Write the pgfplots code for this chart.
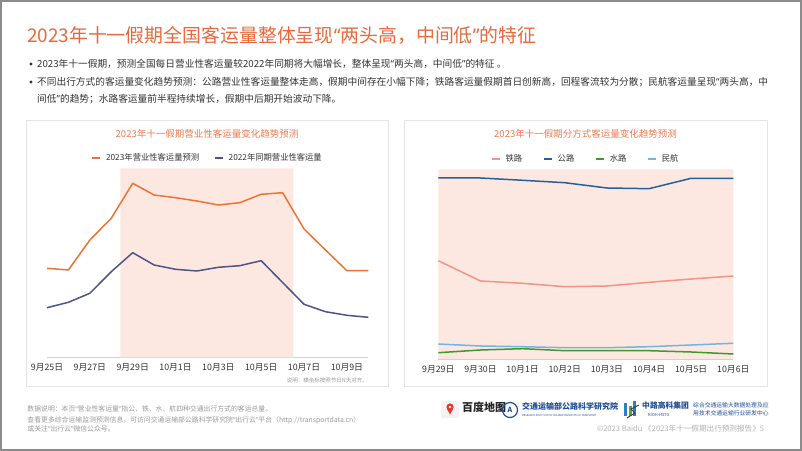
\documentclass[border=0pt]{standalone}
\usepackage{fontspec}
\setmainfont{Noto Sans CJK SC}
\newfontfamily\latinq{Noto Sans}
\newcommand{\qo}{{\latinq “}}
\newcommand{\qc}{{\latinq ”}}
\usepackage{pgfplots}
\pgfplotsset{compat=1.18}

\definecolor{ttl}{HTML}{E8693C}
\definecolor{ctl}{HTML}{EE7A4E}
\definecolor{sh}{HTML}{FCE8E0}
\definecolor{or}{HTML}{EC7334}
\definecolor{nv}{HTML}{4B5586}
\definecolor{rail}{HTML}{F29385}
\definecolor{road}{HTML}{26609C}
\definecolor{water}{HTML}{3C9B2A}
\definecolor{air}{HTML}{74B3E2}
\definecolor{txt}{HTML}{333333}
\definecolor{foot}{HTML}{9A9A9A}
\definecolor{logob}{HTML}{1F4E9A}
\definecolor{pinred}{HTML}{E8372C}
\definecolor{lgblue}{HTML}{2B7FC3}
\definecolor{lggreen}{HTML}{49A942}

\newcommand{\fs}[1]{\fontsize{#1bp}{1.2\dimexpr #1bp\relax}\selectfont}

\pgfplotsset{
  slide/.style={
    scale only axis,
    anchor=south west,
    axis x line*=bottom,
    axis y line=none,
    x axis line style={draw=black!18, line width=0.8bp, -},
    xtick style={draw=none},
    ytick=\empty,
    ymin=0,
    clip=false,
    xticklabel style={font=\fs{8.8}, text=txt, yshift=-3bp},
    legend style={draw=none, fill=none, font=\fs{8.3}, text=txt,
      at={(0.5,1.054)}, anchor=center,
      /tikz/every odd column/.append style={column sep=3bp}},
    legend columns=-1,
    legend image code/.code={\draw[##1, line width=1.5bp] (0bp,0bp) -- (8bp,0bp);},
    every axis plot/.append style={line width=1.5bp, line join=round},
  }
}

\begin{document}
\begin{tikzpicture}[x=1bp,y=1bp]
\path[use as bounding box] (0,0) rectangle (802,451);
\fill[white] (0,0) rectangle (802,451);
\draw[black!45, line width=1.6bp] (0.8,0.8) rectangle (801.2,450.2);
\coordinate (LA) at (47,93.5);
\coordinate (RA) at (438.3,92);

% headline and bullets
\node[anchor=west, inner sep=0, text=ttl, font=\fs{18.9}] at (27,416) {2023年十一假期全国客运量整体呈现\qo 两头高，中间低\qc 的特征};
\fill[txt] (31,387) circle (1.7);
\fill[txt] (31,369) circle (1.7);
\node[anchor=west, inner sep=0, text=txt, font=\fs{9.7}] at (37,387) {2023年十一假期，预测全国每日营业性客运量较2022年同期将大幅增长，整体呈现\qo 两头高，中间低\qc 的特征 。};
\node[anchor=west, inner sep=0, text=txt, font=\fs{9.7}] at (37,369) {不同出行方式的客运量变化趋势预测：公路营业性客运量整体走高，假期中间存在小幅下降；铁路客运量假期首日创新高，回程客流较为分散；民航客运量呈现\qo 两头高，中};
\node[anchor=west, inner sep=0, text=txt, font=\fs{9.7}] at (37,352) {间低\qc 的趋势；水路客运量前半程持续增长，假期中后期开始波动下降。};

% cards
\draw[black!10, line width=0.7bp] (26.7,64.3) rectangle (388,331);
\draw[black!10, line width=0.7bp] (404,64.3) rectangle (767.7,331);
\node[text=ctl, font=\fs{9.5}] at (207,317) {2023年十一假期营业性客运量变化趋势预测};
\node[text=ctl, font=\fs{9.5}] at (585.5,316.7) {2023年十一假期分方式客运量变化趋势预测};

% left chart
\begin{axis}[slide, at={(LA)}, width=321.3bp, height=189.2bp,
  xmin=0, xmax=15, ymax=189.2,
  xtick={0,2,...,14},
  xticklabels={9月25日,9月27日,9月29日,10月1日,10月3日,10月5日,10月7日,10月9日},
  legend style={/tikz/every even column/.append style={column sep=13bp}}]
\addplot[fill=sh, draw=none, forget plot] coordinates {(3.43,0) (3.43,189.2) (11.5,189.2) (11.5,0)} \closedcycle;
\addplot[color=or] coordinates {
  (0,89.2) (1,87.5) (2,117.5) (3,139.2) (4,174.2) (5,162.5) (6,159.8) (7,156.5)
  (8,152.5) (9,154.8) (10,163.2) (11,164.8) (12,128.5) (13,107.5) (14,86.8) (15,86.8)};
\addlegendentry{2023年营业性客运量预测}
\addplot[color=nv] coordinates {
  (0,49.8) (1,55.2) (2,64.2) (3,85.8) (4,104.8) (5,92.5) (6,88.2) (7,86.5)
  (8,90.2) (9,91.8) (10,96.8) (11,75) (12,53.2) (13,45.8) (14,42.2) (15,40.2)};
\addlegendentry{2022年同期营业性客运量}
\end{axis}
\node[anchor=east, inner sep=0, text=foot, font=\fs{5.5}] at (368,70.5) {说明：横坐标按照节日N天对齐。};

% right chart
\begin{axis}[slide, at={(RA)}, width=295bp, height=189.7bp,
  xmin=0, xmax=7, ymax=189.7,
  xtick={0,...,7},
  xticklabels={9月29日,9月30日,10月1日,10月2日,10月3日,10月4日,10月5日,10月6日},
  legend style={/tikz/every even column/.append style={column sep=19bp}}]
\addplot[fill=sh, draw=none, forget plot] coordinates {(0,0) (0,189.7) (7,189.7) (7,0)} \closedcycle;
\addplot[color=rail] coordinates {(0,98.3) (1,78) (2,75.7) (3,72.3) (4,73) (5,76.7) (6,80) (7,83)};
\addlegendentry{铁路}
\addplot[color=road] coordinates {(0,181) (1,181) (2,178.7) (3,176.3) (4,171) (5,170.3) (6,180.7) (7,180.7)};
\addlegendentry{公路}
\addplot[color=water] coordinates {(0,6.3) (1,9) (2,10.3) (3,8.3) (4,8.3) (5,8.3) (6,7) (7,5)};
\addlegendentry{水路}
\addplot[color=air] coordinates {(0,15) (1,13) (2,12.3) (3,11.3) (4,11.3) (5,12.3) (6,14) (7,15.7)};
\addlegendentry{民航}
\end{axis}

% footer notes
\node[anchor=west, inner sep=0, text=foot, font=\fs{6.85}] at (27.3,42) {数据说明：本页\qo 营业性客运量\qc 指公、铁、水、航四种交通出行方式的客运总量。};
\node[anchor=west, inner sep=0, text=foot, font=\fs{6.85}] at (27.3,31) {查看更多综合运输监测预测信息，可访问交通运输部公路科学研究院\qo 出行云\qc 平台（http://transportdata.cn）};
\node[anchor=west, inner sep=0, text=foot, font=\fs{6.85}] at (27.3,22.3) {或关注\qo 出行云\qc 微信公众号。};
\node[anchor=east, inner sep=0, text=black!30, font=\fs{7.6}] at (764.3,22.7) {©2023 Baidu 《2023年十一假期出行预测报告》5};

% logos (text approximations)
\fill[black!5, rounded corners=2bp] (441,33) rectangle (459,50);
\fill[pinred] (450,44) circle (3.6);
\fill[pinred] (446.8,42.4) -- (450,36.5) -- (453.2,42.4) -- cycle;
\fill[white] (450,44) circle (1.3);
\node[anchor=west, inner sep=0, font=\fs{11}\bfseries, text=black!85] at (462,44) {百度地图};
\draw[logob, line width=1.2bp] (510,41) circle (7.5);
\node[font=\fs{7}\bfseries, text=logob] at (510,41) {A};
\node[anchor=west, inner sep=0, font=\fs{8}\bfseries, text=logob] at (522,45) {交通运输部公路科学研究院};
\node[anchor=west, inner sep=0, font=\fs{2.6}, text=logob] at (522,35.5) {RESEARCH INSTITUTE OF HIGHWAY MINISTRY OF TRANSPORT};
\fill[lgblue] (624,35) rectangle (627,48);
\fill[lggreen] (628.5,35) rectangle (631.5,45);
\fill[lgblue] (633,35) rectangle (636,50);
\draw[black!75, line width=1bp] (627,33) -- (635,38) -- (631,42) -- (639,46);
\node[anchor=west, inner sep=0, font=\fs{7.8}\bfseries, text=logob] at (642,45) {中路高科集团};
\node[anchor=west, inner sep=0, font=\fs{4}, text=logob] at (648,35.5) {RIOH-HSTG};
\node[anchor=west, inner sep=0, font=\fs{5.8}, text=logob] at (693,45.5) {综合交通运输大数据处理及应};
\node[anchor=west, inner sep=0, font=\fs{5.8}, text=logob] at (693,37.5) {用技术交通运输行业研发中心};
\end{tikzpicture}
\end{document}
